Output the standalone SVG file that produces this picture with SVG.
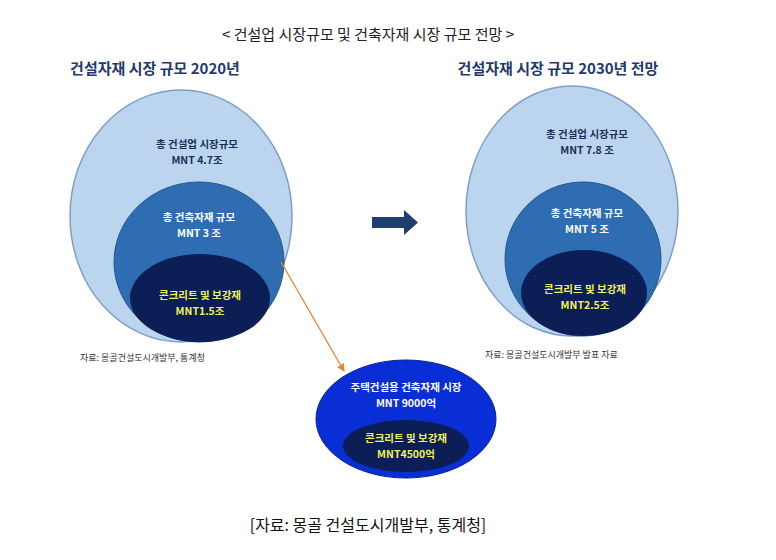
<svg xmlns="http://www.w3.org/2000/svg" width="776" height="560" viewBox="0 0 776 560">
<style>
text{font-family:"Noto Sans CJK KR","Liberation Sans",sans-serif;text-anchor:middle}
.t{font-size:10.5px;font-weight:bold}
.y{fill:#f2f25a}.w{fill:#fff}.d{fill:#1a2f5a}
.o{fill:#bcd5ef;stroke:#7f9fc8;stroke-width:1.5}
.m{fill:#2f6db3;stroke:#24558c;stroke-width:1}
.i{fill:#0b1e55}
.h{font-size:15px;font-weight:bold;fill:#1f3a6e}
.s{font-size:9px;fill:#333;text-anchor:start}
</style>
<defs><marker id="a" markerWidth="8" markerHeight="8" refX="7" refY="4" orient="auto" markerUnits="userSpaceOnUse"><path d="M0,0L8,4L0,8z" fill="#e8832a"/></marker></defs>
<rect width="776" height="560" fill="#fff"/>
<text x="368" y="40" style="font-size:15px;fill:#222">&lt; 건설업 시장규모 및 건축자재 시장 규모 전망 &gt;</text>
<text x="155" y="74" class="h">건설자재 시장 규모 2020년</text>
<text x="558" y="74" class="h">건설자재 시장 규모 2030년 전망</text>
<g id="left">
<ellipse cx="181" cy="216" rx="111" ry="126" class="o"/>
<ellipse cx="199" cy="262" rx="85" ry="80" class="m"/>
<ellipse cx="200" cy="298" rx="70" ry="44" class="i"/>
<text x="197" y="148" class="t d">총 건설업 시장규모</text>
<text x="197" y="164" class="t d">MNT 4.7조</text>
<text x="199" y="221" class="t w">총 건축자재 규모</text>
<text x="199" y="237" class="t w">MNT 3 조</text>
<text x="200" y="299" class="t y">콘크리트 및 보강재</text>
<text x="200" y="315" class="t y">MNT1.5조</text>
<text x="80" y="361" class="s">자료: 몽골건설도시개발부, 통계청</text>
</g>
<g id="right">
<ellipse cx="572" cy="211" rx="106" ry="125" class="o"/>
<ellipse cx="583" cy="259" rx="78" ry="77" class="m"/>
<ellipse cx="584" cy="293" rx="63" ry="43" class="i"/>
<text x="587" y="138" class="t d">총 건설업 시장규모</text>
<text x="587" y="154" class="t d">MNT 7.8 조</text>
<text x="587" y="217" class="t w">총 건축자재 규모</text>
<text x="587" y="233" class="t w">MNT 5 조</text>
<text x="585" y="293" class="t y">콘크리트 및 보강재</text>
<text x="585" y="309" class="t y">MNT2.5조</text>
<text x="485" y="358" class="s">자료: 몽골건설도시개발부 발표 자료</text>
</g>
<g id="bottom">
<ellipse cx="406" cy="419" rx="90" ry="59" fill="#0a2ed6" stroke="#0a2090"/>
<ellipse cx="406" cy="446" rx="63" ry="26" fill="#0b1e55"/>
<text x="406" y="391" class="t w">주택건설용 건축자재 시장</text>
<text x="406" y="407" class="t w">MNT 9000억</text>
<text x="406" y="442" class="t y">콘크리트 및 보강재</text>
<text x="406" y="458" class="t y">MNT4500억</text>
</g>
<g id="connectors">
<line x1="281" y1="262" x2="344" y2="371" stroke="#e8832a" stroke-width="1.3" marker-end="url(#a)"/>
<path d="M372,217H404V210L418,222.5L404,235V228H372z" fill="#1f3f6e"/>
</g>
<text x="368" y="531" style="font-size:16px;fill:#111">[자료: 몽골 건설도시개발부, 통계청]</text>
</svg>
